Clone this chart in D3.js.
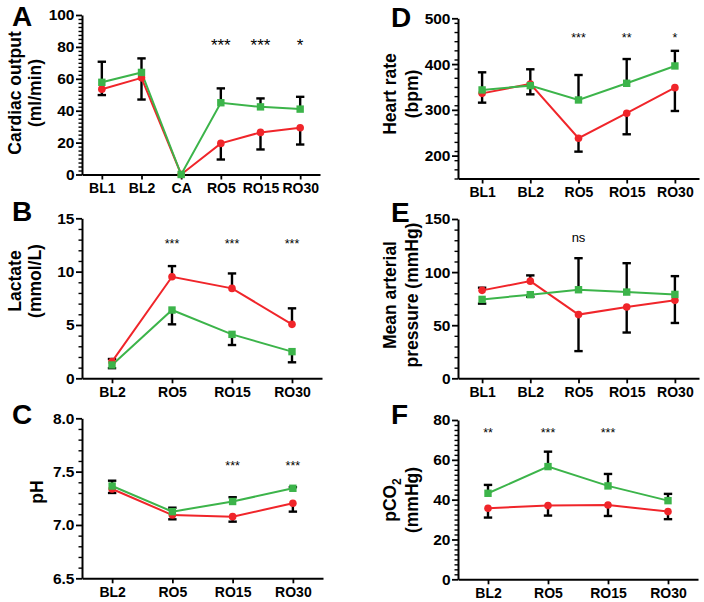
<!DOCTYPE html>
<html><head><meta charset="utf-8">
<script src="https://cdn.jsdelivr.net/npm/d3@7"></script>
<style>
body{margin:0;background:#fff;}
svg{display:block;}
text{font-family:"Liberation Sans",Arial,sans-serif;}
</style></head>
<body>
<svg id="c" width="704" height="602"></svg>
<script>
// ---------- DATA ----------
// A: Cardiac output
const catsA = ["BL1","BL2","CA","RO5","RO15","RO30"];
const coGreen = [57.8, 64, 0, 45, 42.4, 41];
const coGreenErr = [12.9, 8.8, 0, 9, 5.3, 7.7];
const coRed = [53.5, 60.6, 0, 19.5, 26.4, 29.3];
const coRedErr = [3.7, 13.6, 0, 10.1, 10.7, 10.5];
const coStars = ["", "", "", "***", "***", "*"];
const coTicks = [0, 20, 40, 60, 80, 100];

// B: Lactate
const catsB = ["BL2","RO5","RO15","RO30"];
const lacGreen = [1.25, 6.4, 4.12, 2.5];
const lacGreenErr = [0.3, 1.34, 1.0, 1.0];
const lacRed = [1.56, 9.52, 8.43, 5.06];
const lacRedErr = [0.25, 1.0, 1.4, 1.5];
const lacStars = ["", "***", "***", "***"];
const lacTicks = [0, 5, 10, 15];

// C: pH
const catsC = ["BL2","RO5","RO15","RO30"];
const phGreen = [7.365, 7.125, 7.22, 7.344];
const phGreenErr = [0.05, 0.037, 0.04, 0.01];
const phRed = [7.337, 7.093, 7.078, 7.203];
const phRedErr = [0.037, 0.04, 0.047, 0.078];
const phStars = ["", "", "***", "***"];
const phTicks = [6.5, 7.0, 7.5, 8.0];

// D: Heart rate
const catsD = ["BL1","BL2","RO5","RO15","RO30"];
const hrGreen = [343.5, 352.9, 321.6, 358, 395.9];
const hrGreenErr = [38.5, 19, 54.5, 53, 33];
const hrRed = [336, 356.6, 238, 292.6, 348.5];
const hrRedErr = [20.3, 32, 29.3, 46, 51];
const hrStars = ["", "", "***", "**", "*"];
const hrTicks = [200, 300, 400, 500];

// E: Mean arterial pressure
const catsE = ["BL1","BL2","RO5","RO15","RO30"];
const mapGreen = [74.3, 78.75, 83.4, 81.2, 79];
const mapGreenErr = [4, 2, 29.7, 27.2, 17.2];
const mapRed = [82.8, 91.5, 60, 67.2, 73.4];
const mapRedErr = [2.5, 5.4, 34.4, 24.1, 21.3];
const mapStars = ["", "", "ns", "", ""];
const mapTicks = [0, 50, 100, 150];

// F: pCO2
const catsF = ["BL2","RO5","RO15","RO30"];
const pco2Green = [43.2, 56.6, 46.9, 39.5];
const pco2GreenErr = [4.2, 7.5, 6, 3.4];
const pco2Red = [35.7, 37, 37.3, 34];
const pco2RedErr = [4.7, 5, 5.5, 3.8];
const pco2Stars = ["**", "***", "***", ""];
const pco2Ticks = [0, 20, 40, 60, 80];

// ---------- STYLE ----------
const GREEN = "#3cb44a";
const RED = "#f0252a";
const FONT = "'Liberation Sans',Arial,sans-serif";

const svg = d3.select("#c");
svg.append("rect").attr("width",704).attr("height",602).attr("fill","#fff");

const panels = [
  {letter:"A", lx:12, ly:26, cats:catsA, g:coGreen, ge:coGreenErr, r:coRed, re:coRedErr, stars:coStars,
   ticks:coTicks, domain:[0,100], minor:2.5, fmt:d3.format("d"),
   x0:82, x1:320, yT:15, yB:174.5, starSize:17, starY:51,
   label:["Cardiac output","(ml/min)"], labX:[21,40.5], labY:93},
  {letter:"B", lx:12, ly:221, cats:catsB, g:lacGreen, ge:lacGreenErr, r:lacRed, re:lacRedErr, stars:lacStars,
   ticks:lacTicks, domain:[0,15], minor:1, fmt:d3.format("d"),
   x0:82, x1:322, yT:218.3, yB:378.3, starSize:12.5, starY:248,
   label:["Lactate","(mmol/L)"], labX:[21,40.5], labY:281},
  {letter:"C", lx:12, ly:424, cats:catsC, g:phGreen, ge:phGreenErr, r:phRed, re:phRedErr, stars:phStars,
   ticks:phTicks, domain:[6.5,8.0], minor:0.1, fmt:d3.format(".1f"),
   x0:82, x1:323, yT:418.3, yB:578.3, starSize:12.5, starY:470,
   label:["pH"], labX:[43], labY:492},
  {letter:"D", lx:391, ly:27, cats:catsD, g:hrGreen, ge:hrGreenErr, r:hrRed, re:hrRedErr, stars:hrStars,
   ticks:hrTicks, domain:[150,500], minor:20, fmt:d3.format("d"),
   x0:458, x1:699, yT:18.3, yB:178.5, starSize:12.5, starY:41.5,
   label:["Heart rate","(bpm)"], labX:[396,417.5], labY:94},
  {letter:"E", lx:391, ly:222, cats:catsE, g:mapGreen, ge:mapGreenErr, r:mapRed, re:mapRedErr, stars:mapStars,
   ticks:mapTicks, domain:[0,150], minor:10, fmt:d3.format("d"),
   x0:458, x1:699, yT:219, yB:378.3, starSize:13, starY:242,
   label:["Mean arterial","pressure (mmHg)"], labX:[396,417.5], labY:295},
  {letter:"F", lx:391, ly:424, cats:catsF, g:pco2Green, ge:pco2GreenErr, r:pco2Red, re:pco2RedErr, stars:pco2Stars,
   ticks:pco2Ticks, domain:[0,80], minor:2.5, fmt:d3.format("d"),
   x0:458, x1:698, yT:420, yB:579.3, starSize:12.5, starY:436.5,
   label:["pCO|2","(mmHg)"], labX:[396,417.5], labY:500}
];

panels.forEach(p => {
  const g = svg.append("g");
  const x = d3.scalePoint().domain(p.cats).range([p.x0, p.x1]).padding(0.5);
  const y = d3.scaleLinear().domain(p.domain).range([p.yB, p.yT]);

  // minor ticks
  const minorVals = d3.range(p.domain[0], p.domain[1] + 1e-9, p.minor)
    .filter(v => !p.ticks.some(t => Math.abs(t - v) < 1e-6));
  const gm = g.append("g").attr("transform", `translate(${p.x0},0)`)
    .call(d3.axisLeft(y).tickValues(minorVals).tickSize(3.5).tickSizeOuter(0).tickFormat(""));
  gm.select(".domain").remove();
  gm.selectAll("line").attr("stroke","#000").attr("stroke-width",1.4);

  // y axis major
  const gy = g.append("g").attr("transform", `translate(${p.x0},0)`)
    .attr("font-size",15.5).attr("font-family",FONT).attr("font-weight","bold")
    .call(d3.axisLeft(y).tickValues(p.ticks).tickSize(6).tickSizeOuter(0).tickPadding(1.5).tickFormat(p.fmt));
  gy.attr("font-size",15.5).attr("font-family",FONT).attr("font-weight","bold");
  gy.select(".domain").attr("stroke","#000").attr("stroke-width",2);
  gy.selectAll("line").attr("stroke","#000").attr("stroke-width",1.8);
  gy.selectAll("text").style("font-size","15.5px").style("font-weight","bold").attr("fill","#000")
    .style("font-family",FONT);

  // x axis
  const gx = g.append("g").attr("transform", `translate(0,${p.yB})`)
    .call(d3.axisBottom(x).tickSize(5).tickSizeOuter(0).tickPadding(4));
  gx.attr("font-size",14).attr("font-family",FONT).attr("font-weight","bold");
  gx.select(".domain").attr("stroke","#000").attr("stroke-width",2);
  gx.selectAll("line").attr("stroke","#000").attr("stroke-width",1.8);
  gx.selectAll("text").style("font-size","14px").style("font-weight","bold").attr("fill","#000")
    .style("font-family",FONT);

  // error bars (drawn away from the other series)
  const eb = g.append("g").attr("stroke","#000").attr("stroke-width",2.4).attr("fill","none");
  const drawErr = (vals, errs, other) => {
    p.cats.forEach((c, i) => {
      if (!errs[i]) return;
      const dir = vals[i] >= other[i] ? 1 : -1;
      const y0 = y(vals[i]), y1 = y(vals[i] + dir * errs[i]);
      const cx = x(c);
      eb.append("line").attr("x1",cx).attr("x2",cx).attr("y1",y0).attr("y2",y1);
      eb.append("line").attr("x1",cx-4.2).attr("x2",cx+4.2).attr("y1",y1).attr("y2",y1);
    });
  };
  drawErr(p.g, p.ge, p.r);
  drawErr(p.r, p.re, p.g);

  const line = d3.line().x((d,i) => x(p.cats[i])).y(d => y(d));
  g.append("path").datum(p.r).attr("d", line).attr("fill","none").attr("stroke",RED).attr("stroke-width",2);
  g.append("path").datum(p.g).attr("d", line).attr("fill","none").attr("stroke",GREEN).attr("stroke-width",2);

  g.selectAll(".redpt").data(p.r).enter().append("circle")
    .attr("cx",(d,i)=>x(p.cats[i])).attr("cy",d=>y(d)).attr("r",3.8).attr("fill",RED);
  g.selectAll(".grpt").data(p.g).enter().append("rect")
    .attr("x",(d,i)=>x(p.cats[i])-3.7).attr("y",d=>y(d)-3.7).attr("width",7.4).attr("height",7.4).attr("fill",GREEN);

  // significance
  g.selectAll(".star").data(p.stars).enter().append("text")
    .attr("x",(d,i)=>x(p.cats[i])).attr("y",p.starY).attr("text-anchor","middle")
    .attr("font-size",p.starSize).attr("fill","#000").text(d=>d);

  // panel letter
  g.append("text").attr("x",p.lx).attr("y",p.ly).attr("font-size",28).attr("font-weight",900)
    .attr("font-family","Lato,'Open Sans',sans-serif").attr("fill","#000").text(p.letter);

  // y label
  p.label.forEach((t, k) => {
    const tx = g.append("text").attr("transform",`translate(${p.labX[k]},${p.labY}) rotate(-90)`)
      .attr("text-anchor","middle").attr("font-size",17.5).attr("font-weight","bold").attr("fill","#000");
    if (t.includes("|")) {
      const [a,b] = t.split("|");
      tx.append("tspan").text(a);
      tx.append("tspan").attr("dy",5).attr("font-size",12).text(b);
    } else tx.text(t);
  });
});
</script>
</body></html>
